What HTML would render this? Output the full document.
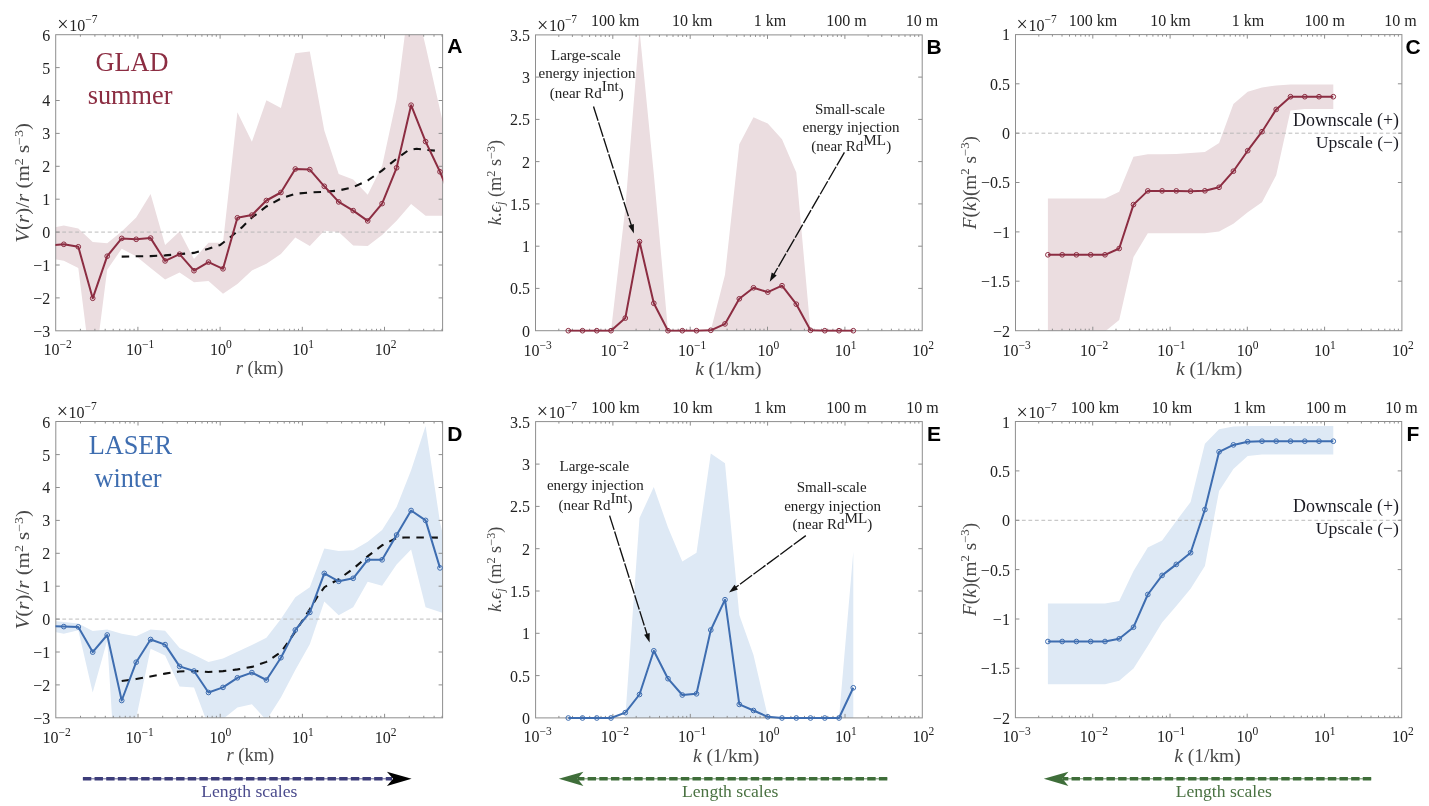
<!DOCTYPE html>
<html><head><meta charset="utf-8"><title>Figure</title><style>html,body{margin:0;padding:0;background:#fff}svg{display:block}</style></head><body>
<svg width="1429" height="806" viewBox="0 0 1429 806" font-family='"Liberation Serif", serif'>
<rect width="1429" height="806" fill="#fff"/>
<defs>
<clipPath id="ca"><rect x="55.7" y="34.7" width="386.9" height="296.1"/></clipPath>
<clipPath id="cax"><rect x="55.400000000000006" y="33.7" width="387.8" height="298.2"/></clipPath>
<clipPath id="cd"><rect x="55.8" y="421.5" width="386.8" height="296.3"/></clipPath>
<clipPath id="cdx"><rect x="55.5" y="420.5" width="387.7" height="298.4"/></clipPath>
<clipPath id="cb"><rect x="535.5" y="34.9" width="386.7" height="295.8"/></clipPath>
<clipPath id="cbx"><rect x="535.2" y="33.9" width="387.6" height="297.9"/></clipPath>
<clipPath id="ce"><rect x="535.6" y="421.6" width="386.7" height="296.3"/></clipPath>
<clipPath id="cex"><rect x="535.3000000000001" y="420.6" width="387.6" height="298.4"/></clipPath>
<clipPath id="cc"><rect x="1015.5" y="34.6" width="386.4" height="296.1"/></clipPath>
<clipPath id="ccx"><rect x="1015.2" y="33.6" width="387.3" height="298.2"/></clipPath>
<clipPath id="cf"><rect x="1015.4" y="421.5" width="386.3" height="296.2"/></clipPath>
<clipPath id="cfx"><rect x="1015.1" y="420.5" width="387.2" height="298.3"/></clipPath>
</defs>
<polygon points="49.3,228.3 63.8,225.5 78.3,228.6 92.7,242.0 107.2,243.2 121.7,231.4 136.2,217.6 150.6,194.1 165.1,245.0 179.6,231.4 194.0,259.1 208.5,242.8 223.0,242.8 237.4,112.2 251.9,141.7 266.4,100.2 280.9,108.1 295.3,53.2 309.8,51.5 324.3,130.5 338.7,174.0 353.2,179.5 367.7,194.7 382.1,166.1 396.6,98.9 411.1,-14.0 425.6,46.0 440.0,109.8 454.5,173.0 454.5,215.7 440.0,215.7 425.6,215.7 411.1,203.9 396.6,220.7 382.1,235.0 367.7,245.9 353.2,245.6 338.7,231.9 324.3,230.8 309.8,245.9 295.3,237.5 280.9,254.0 266.4,263.8 251.9,270.5 237.4,284.0 223.0,293.7 208.5,281.0 194.0,282.3 179.6,272.6 165.1,279.4 150.6,268.0 136.2,256.3 121.7,248.7 107.2,269.7 92.7,383.0 78.3,268.0 63.8,260.8 49.3,258.4" fill="#ebdde0" clip-path="url(#ca)"/>
<line x1="55.7" y1="232.1" x2="442.6" y2="232.1" stroke="#b4b4b4" stroke-width="0.9" stroke-dasharray="3.8 2.7"/>
<polyline points="121.7,256.6 136.2,256.3 150.4,256.1 165.0,255.4 179.3,254.1 193.9,252.9 208.4,248.7 220.1,245.0 231.8,236.0 241.9,227.4 252.0,217.5 266.4,206.5 280.9,198.5 295.3,193.8 309.9,192.5 324.4,191.8 338.8,190.5 353.3,187.1 367.9,180.4 382.3,170.3 396.8,158.6 408.2,150.4 416.6,148.7 426.7,149.9 436.5,150.8" fill="none" stroke="#111" stroke-width="2.1" stroke-dasharray="7.5 6.5" clip-path="url(#ca)"/>
<rect x="55.7" y="34.7" width="386.9" height="296.1" fill="none" stroke="#8e8e8e" stroke-width="1"/>
<path d="M80.4 330.8v-2M80.4 34.7v2M94.9 330.8v-2M94.9 34.7v2M105.2 330.8v-2M105.2 34.7v2M113.2 330.8v-2M113.2 34.7v2M119.7 330.8v-2M119.7 34.7v2M125.2 330.8v-2M125.2 34.7v2M129.9 330.8v-2M129.9 34.7v2M134.1 330.8v-2M134.1 34.7v2M137.9 330.8v-4M137.9 34.7v4M162.6 330.8v-2M162.6 34.7v2M177.1 330.8v-2M177.1 34.7v2M187.4 330.8v-2M187.4 34.7v2M195.4 330.8v-2M195.4 34.7v2M201.9 330.8v-2M201.9 34.7v2M207.4 330.8v-2M207.4 34.7v2M212.1 330.8v-2M212.1 34.7v2M216.3 330.8v-2M216.3 34.7v2M220.1 330.8v-4M220.1 34.7v4M244.8 330.8v-2M244.8 34.7v2M259.3 330.8v-2M259.3 34.7v2M269.6 330.8v-2M269.6 34.7v2M277.6 330.8v-2M277.6 34.7v2M284.1 330.8v-2M284.1 34.7v2M289.6 330.8v-2M289.6 34.7v2M294.3 330.8v-2M294.3 34.7v2M298.5 330.8v-2M298.5 34.7v2M302.3 330.8v-4M302.3 34.7v4M327.0 330.8v-2M327.0 34.7v2M341.5 330.8v-2M341.5 34.7v2M351.8 330.8v-2M351.8 34.7v2M359.8 330.8v-2M359.8 34.7v2M366.3 330.8v-2M366.3 34.7v2M371.8 330.8v-2M371.8 34.7v2M376.5 330.8v-2M376.5 34.7v2M380.7 330.8v-2M380.7 34.7v2M384.5 330.8v-4M384.5 34.7v4M409.2 330.8v-2M409.2 34.7v2M423.7 330.8v-2M423.7 34.7v2M434.0 330.8v-2M434.0 34.7v2M442.0 330.8v-2M442.0 34.7v2" stroke="#8e8e8e" stroke-width="1" fill="none"/>
<polyline points="49.3,245.3 63.8,244.3 78.3,246.8 92.7,298.3 107.2,256.2 121.7,238.4 136.2,239.3 150.6,238.1 165.1,260.9 179.6,254.2 194.0,270.7 208.5,262.1 223.0,268.8 237.4,217.8 251.9,215.1 266.4,200.5 280.9,192.5 295.3,169.0 309.8,169.6 324.3,186.3 338.7,201.9 353.2,210.6 367.7,220.9 382.1,203.6 396.6,167.8 411.1,105.2 425.6,141.6 440.0,171.8 454.5,207.2" fill="none" stroke="#8c2d42" stroke-width="2.0" stroke-linejoin="round" clip-path="url(#cax)"/>
<circle cx="63.8" cy="244.3" r="2.35" fill="none" stroke="#8c2d42" stroke-width="1"/>
<circle cx="78.3" cy="246.8" r="2.35" fill="none" stroke="#8c2d42" stroke-width="1"/>
<circle cx="92.7" cy="298.3" r="2.35" fill="none" stroke="#8c2d42" stroke-width="1"/>
<circle cx="107.2" cy="256.2" r="2.35" fill="none" stroke="#8c2d42" stroke-width="1"/>
<circle cx="121.7" cy="238.4" r="2.35" fill="none" stroke="#8c2d42" stroke-width="1"/>
<circle cx="136.2" cy="239.3" r="2.35" fill="none" stroke="#8c2d42" stroke-width="1"/>
<circle cx="150.6" cy="238.1" r="2.35" fill="none" stroke="#8c2d42" stroke-width="1"/>
<circle cx="165.1" cy="260.9" r="2.35" fill="none" stroke="#8c2d42" stroke-width="1"/>
<circle cx="179.6" cy="254.2" r="2.35" fill="none" stroke="#8c2d42" stroke-width="1"/>
<circle cx="194.0" cy="270.7" r="2.35" fill="none" stroke="#8c2d42" stroke-width="1"/>
<circle cx="208.5" cy="262.1" r="2.35" fill="none" stroke="#8c2d42" stroke-width="1"/>
<circle cx="223.0" cy="268.8" r="2.35" fill="none" stroke="#8c2d42" stroke-width="1"/>
<circle cx="237.4" cy="217.8" r="2.35" fill="none" stroke="#8c2d42" stroke-width="1"/>
<circle cx="251.9" cy="215.1" r="2.35" fill="none" stroke="#8c2d42" stroke-width="1"/>
<circle cx="266.4" cy="200.5" r="2.35" fill="none" stroke="#8c2d42" stroke-width="1"/>
<circle cx="280.9" cy="192.5" r="2.35" fill="none" stroke="#8c2d42" stroke-width="1"/>
<circle cx="295.3" cy="169.0" r="2.35" fill="none" stroke="#8c2d42" stroke-width="1"/>
<circle cx="309.8" cy="169.6" r="2.35" fill="none" stroke="#8c2d42" stroke-width="1"/>
<circle cx="324.3" cy="186.3" r="2.35" fill="none" stroke="#8c2d42" stroke-width="1"/>
<circle cx="338.7" cy="201.9" r="2.35" fill="none" stroke="#8c2d42" stroke-width="1"/>
<circle cx="353.2" cy="210.6" r="2.35" fill="none" stroke="#8c2d42" stroke-width="1"/>
<circle cx="367.7" cy="220.9" r="2.35" fill="none" stroke="#8c2d42" stroke-width="1"/>
<circle cx="382.1" cy="203.6" r="2.35" fill="none" stroke="#8c2d42" stroke-width="1"/>
<circle cx="396.6" cy="167.8" r="2.35" fill="none" stroke="#8c2d42" stroke-width="1"/>
<circle cx="411.1" cy="105.2" r="2.35" fill="none" stroke="#8c2d42" stroke-width="1"/>
<circle cx="425.6" cy="141.6" r="2.35" fill="none" stroke="#8c2d42" stroke-width="1"/>
<circle cx="440.0" cy="171.8" r="2.35" fill="none" stroke="#8c2d42" stroke-width="1"/>
<path d="M55.7 297.9h4M442.6 297.9h-4M55.7 265.0h4M442.6 265.0h-4M55.7 232.1h4M442.6 232.1h-4M55.7 199.2h4M442.6 199.2h-4M55.7 166.3h4M442.6 166.3h-4M55.7 133.4h4M442.6 133.4h-4M55.7 100.5h4M442.6 100.5h-4M55.7 67.6h4M442.6 67.6h-4" stroke="#8e8e8e" stroke-width="1" fill="none"/>
<text x="50.2" y="336.7" text-anchor="end" font-size="16" fill="#222">−3</text>
<text x="50.2" y="303.8" text-anchor="end" font-size="16" fill="#222">−2</text>
<text x="50.2" y="270.9" text-anchor="end" font-size="16" fill="#222">−1</text>
<text x="50.2" y="238.0" text-anchor="end" font-size="16" fill="#222">0</text>
<text x="50.2" y="205.1" text-anchor="end" font-size="16" fill="#222">1</text>
<text x="50.2" y="172.2" text-anchor="end" font-size="16" fill="#222">2</text>
<text x="50.2" y="139.3" text-anchor="end" font-size="16" fill="#222">3</text>
<text x="50.2" y="106.4" text-anchor="end" font-size="16" fill="#222">4</text>
<text x="50.2" y="73.5" text-anchor="end" font-size="16" fill="#222">5</text>
<text x="50.2" y="40.6" text-anchor="end" font-size="16" fill="#222">6</text>
<text x="43.6" y="355.3" font-size="16" fill="#222">10<tspan dy="-7" font-size="11.5">−2</tspan></text>
<text x="126.0" y="355.3" font-size="16" fill="#222">10<tspan dy="-7" font-size="11.5">−1</tspan></text>
<text x="210.0" y="355.3" font-size="16" fill="#222">10<tspan dy="-7" font-size="11.5">0</tspan></text>
<text x="292.3" y="355.3" font-size="16" fill="#222">10<tspan dy="-7" font-size="11.5">1</tspan></text>
<text x="374.8" y="355.3" font-size="16" fill="#222">10<tspan dy="-7" font-size="11.5">2</tspan></text>
<text x="57.3" y="30.8" font-size="16" fill="#222"><tspan font-size="20" dy="0.6">×</tspan><tspan dy="-0.6" dx="0.6">10</tspan><tspan dy="-7.5" font-size="11.5">−7</tspan></text>
<text x="447.3" y="53" font-family='"Liberation Sans", sans-serif' font-weight="bold" font-size="21" fill="#000">A</text>
<text x="132" y="70.6" text-anchor="middle" font-size="26.3" fill="#8c2d42">GLAD</text>
<text x="130.1" y="103.9" text-anchor="middle" font-size="26.3" fill="#8c2d42">summer</text>
<polygon points="49.3,620.5 63.8,621.9 78.3,623.6 92.7,631.1 107.2,629.5 121.7,633.7 136.2,636.2 150.6,629.5 165.1,630.8 179.6,647.9 194.0,654.7 208.5,661.9 223.0,658.5 237.4,651.8 251.9,645.0 266.4,637.8 280.9,619.0 295.3,597.3 309.8,587.2 324.3,548.6 338.7,551.1 353.2,550.2 367.7,541.8 382.1,530.1 396.6,507.1 411.1,470.3 425.6,425.9 440.0,522.2 443.0,535.0 443.0,613.0 440.0,612.0 425.6,607.3 411.1,549.4 396.6,564.5 382.1,585.8 367.7,581.8 353.2,607.3 338.7,615.2 324.3,601.5 309.8,644.3 295.3,670.0 280.9,697.5 266.4,720.2 251.9,704.2 237.4,707.6 223.0,719.0 208.5,726.2 194.0,687.4 179.6,686.6 165.1,655.5 150.6,648.8 136.2,718.0 121.7,871.0 107.2,640.4 92.7,692.5 78.3,630.3 63.8,633.7 49.3,631.0" fill="#dee9f5" clip-path="url(#cd)"/>
<line x1="55.8" y1="619.1" x2="442.6" y2="619.1" stroke="#b4b4b4" stroke-width="0.9" stroke-dasharray="3.8 2.7"/>
<polyline points="121.7,681.0 136.2,679.0 150.4,676.5 165.0,673.6 179.3,671.5 193.9,671.0 208.4,672.0 223.0,671.1 237.6,669.4 252.0,666.9 266.4,661.9 281.1,652.1 295.3,631.7 309.9,609.0 317.5,596.4 324.4,587.2 338.8,579.1 353.3,568.7 367.9,556.1 382.3,545.2 396.8,537.8 404.8,537.5 440.0,537.6" fill="none" stroke="#111" stroke-width="2.1" stroke-dasharray="7.5 6.5" clip-path="url(#cd)"/>
<rect x="55.8" y="421.5" width="386.8" height="296.3" fill="none" stroke="#8e8e8e" stroke-width="1"/>
<path d="M80.5 717.8v-2M80.5 421.5v2M95.0 717.8v-2M95.0 421.5v2M105.3 717.8v-2M105.3 421.5v2M113.3 717.8v-2M113.3 421.5v2M119.8 717.8v-2M119.8 421.5v2M125.3 717.8v-2M125.3 421.5v2M130.0 717.8v-2M130.0 421.5v2M134.2 717.8v-2M134.2 421.5v2M138.0 717.8v-4M138.0 421.5v4M162.7 717.8v-2M162.7 421.5v2M177.2 717.8v-2M177.2 421.5v2M187.5 717.8v-2M187.5 421.5v2M195.5 717.8v-2M195.5 421.5v2M202.0 717.8v-2M202.0 421.5v2M207.5 717.8v-2M207.5 421.5v2M212.2 717.8v-2M212.2 421.5v2M216.4 717.8v-2M216.4 421.5v2M220.2 717.8v-4M220.2 421.5v4M244.9 717.8v-2M244.9 421.5v2M259.4 717.8v-2M259.4 421.5v2M269.7 717.8v-2M269.7 421.5v2M277.7 717.8v-2M277.7 421.5v2M284.2 717.8v-2M284.2 421.5v2M289.7 717.8v-2M289.7 421.5v2M294.4 717.8v-2M294.4 421.5v2M298.6 717.8v-2M298.6 421.5v2M302.4 717.8v-4M302.4 421.5v4M327.1 717.8v-2M327.1 421.5v2M341.6 717.8v-2M341.6 421.5v2M351.9 717.8v-2M351.9 421.5v2M359.9 717.8v-2M359.9 421.5v2M366.4 717.8v-2M366.4 421.5v2M371.9 717.8v-2M371.9 421.5v2M376.6 717.8v-2M376.6 421.5v2M380.8 717.8v-2M380.8 421.5v2M384.6 717.8v-4M384.6 421.5v4M409.3 717.8v-2M409.3 421.5v2M423.8 717.8v-2M423.8 421.5v2M434.1 717.8v-2M434.1 421.5v2M442.1 717.8v-2M442.1 421.5v2" stroke="#8e8e8e" stroke-width="1" fill="none"/>
<polyline points="49.3,626.2 63.8,626.6 78.3,626.9 92.7,652.1 107.2,635.0 121.7,700.5 136.2,662.2 150.6,639.5 165.1,644.6 179.6,666.4 194.0,671.0 208.5,692.5 223.0,687.4 237.4,677.8 251.9,672.6 266.4,680.0 280.9,657.7 295.3,630.0 309.8,612.4 324.3,573.4 338.7,581.3 353.2,578.3 367.7,559.8 382.1,559.8 396.6,535.0 411.1,510.5 425.6,520.4 440.0,567.9" fill="none" stroke="#3e6db0" stroke-width="2.0" stroke-linejoin="round" clip-path="url(#cdx)"/>
<circle cx="63.8" cy="626.6" r="2.35" fill="none" stroke="#3e6db0" stroke-width="1"/>
<circle cx="78.3" cy="626.9" r="2.35" fill="none" stroke="#3e6db0" stroke-width="1"/>
<circle cx="92.7" cy="652.1" r="2.35" fill="none" stroke="#3e6db0" stroke-width="1"/>
<circle cx="107.2" cy="635.0" r="2.35" fill="none" stroke="#3e6db0" stroke-width="1"/>
<circle cx="121.7" cy="700.5" r="2.35" fill="none" stroke="#3e6db0" stroke-width="1"/>
<circle cx="136.2" cy="662.2" r="2.35" fill="none" stroke="#3e6db0" stroke-width="1"/>
<circle cx="150.6" cy="639.5" r="2.35" fill="none" stroke="#3e6db0" stroke-width="1"/>
<circle cx="165.1" cy="644.6" r="2.35" fill="none" stroke="#3e6db0" stroke-width="1"/>
<circle cx="179.6" cy="666.4" r="2.35" fill="none" stroke="#3e6db0" stroke-width="1"/>
<circle cx="194.0" cy="671.0" r="2.35" fill="none" stroke="#3e6db0" stroke-width="1"/>
<circle cx="208.5" cy="692.5" r="2.35" fill="none" stroke="#3e6db0" stroke-width="1"/>
<circle cx="223.0" cy="687.4" r="2.35" fill="none" stroke="#3e6db0" stroke-width="1"/>
<circle cx="237.4" cy="677.8" r="2.35" fill="none" stroke="#3e6db0" stroke-width="1"/>
<circle cx="251.9" cy="672.6" r="2.35" fill="none" stroke="#3e6db0" stroke-width="1"/>
<circle cx="266.4" cy="680.0" r="2.35" fill="none" stroke="#3e6db0" stroke-width="1"/>
<circle cx="280.9" cy="657.7" r="2.35" fill="none" stroke="#3e6db0" stroke-width="1"/>
<circle cx="295.3" cy="630.0" r="2.35" fill="none" stroke="#3e6db0" stroke-width="1"/>
<circle cx="309.8" cy="612.4" r="2.35" fill="none" stroke="#3e6db0" stroke-width="1"/>
<circle cx="324.3" cy="573.4" r="2.35" fill="none" stroke="#3e6db0" stroke-width="1"/>
<circle cx="338.7" cy="581.3" r="2.35" fill="none" stroke="#3e6db0" stroke-width="1"/>
<circle cx="353.2" cy="578.3" r="2.35" fill="none" stroke="#3e6db0" stroke-width="1"/>
<circle cx="367.7" cy="559.8" r="2.35" fill="none" stroke="#3e6db0" stroke-width="1"/>
<circle cx="382.1" cy="559.8" r="2.35" fill="none" stroke="#3e6db0" stroke-width="1"/>
<circle cx="396.6" cy="535.0" r="2.35" fill="none" stroke="#3e6db0" stroke-width="1"/>
<circle cx="411.1" cy="510.5" r="2.35" fill="none" stroke="#3e6db0" stroke-width="1"/>
<circle cx="425.6" cy="520.4" r="2.35" fill="none" stroke="#3e6db0" stroke-width="1"/>
<circle cx="440.0" cy="567.9" r="2.35" fill="none" stroke="#3e6db0" stroke-width="1"/>
<path d="M55.8 684.9h4M442.6 684.9h-4M55.8 652.0h4M442.6 652.0h-4M55.8 619.1h4M442.6 619.1h-4M55.8 586.2h4M442.6 586.2h-4M55.8 553.3h4M442.6 553.3h-4M55.8 520.4h4M442.6 520.4h-4M55.8 487.5h4M442.6 487.5h-4M55.8 454.6h4M442.6 454.6h-4" stroke="#8e8e8e" stroke-width="1" fill="none"/>
<text x="50.3" y="723.7" text-anchor="end" font-size="16" fill="#222">−3</text>
<text x="50.3" y="690.8" text-anchor="end" font-size="16" fill="#222">−2</text>
<text x="50.3" y="657.9" text-anchor="end" font-size="16" fill="#222">−1</text>
<text x="50.3" y="625.0" text-anchor="end" font-size="16" fill="#222">0</text>
<text x="50.3" y="592.1" text-anchor="end" font-size="16" fill="#222">1</text>
<text x="50.3" y="559.2" text-anchor="end" font-size="16" fill="#222">2</text>
<text x="50.3" y="526.3" text-anchor="end" font-size="16" fill="#222">3</text>
<text x="50.3" y="493.4" text-anchor="end" font-size="16" fill="#222">4</text>
<text x="50.3" y="460.5" text-anchor="end" font-size="16" fill="#222">5</text>
<text x="50.3" y="427.6" text-anchor="end" font-size="16" fill="#222">6</text>
<text x="42.6" y="742.9" font-size="16" fill="#222">10<tspan dy="-7" font-size="11.5">−2</tspan></text>
<text x="125.4" y="742.9" font-size="16" fill="#222">10<tspan dy="-7" font-size="11.5">−1</tspan></text>
<text x="209.6" y="742.9" font-size="16" fill="#222">10<tspan dy="-7" font-size="11.5">0</tspan></text>
<text x="291.9" y="742.9" font-size="16" fill="#222">10<tspan dy="-7" font-size="11.5">1</tspan></text>
<text x="374.8" y="742.9" font-size="16" fill="#222">10<tspan dy="-7" font-size="11.5">2</tspan></text>
<text x="56.7" y="417.7" font-size="16" fill="#222"><tspan font-size="20" dy="0.6">×</tspan><tspan dy="-0.6" dx="0.6">10</tspan><tspan dy="-7.5" font-size="11.5">−7</tspan></text>
<text x="447.3" y="440.8" font-family='"Liberation Sans", sans-serif' font-weight="bold" font-size="21" fill="#000">D</text>
<text x="130.3" y="454.1" text-anchor="middle" font-size="26.3" fill="#3e6db0">LASER</text>
<text x="128" y="487.4" text-anchor="middle" font-size="26.3" fill="#3e6db0">winter</text>
<polygon points="568.3,330.7 582.5,330.7 596.8,330.7 611.0,330.7 625.3,208.4 639.5,30.0 653.8,174.0 668.0,330.7 682.3,330.7 696.5,330.7 710.8,330.2 725.0,274.7 739.3,144.2 753.5,117.3 767.8,123.6 782.0,139.2 796.3,172.4 810.5,330.7 824.8,330.7 839.0,330.7 853.3,330.7 853.3,331.0 839.0,331.0 824.8,331.0 810.5,331.0 796.3,331.0 782.0,331.0 767.8,331.0 753.5,331.0 739.3,331.0 725.0,331.0 710.8,331.0 696.5,331.0 682.3,331.0 668.0,331.0 653.8,331.0 639.5,331.0 625.3,331.0 611.0,331.0 596.8,331.0 582.5,331.0 568.3,331.0" fill="#ebdde0" clip-path="url(#cb)"/>
<rect x="535.5" y="34.9" width="386.7" height="295.8" fill="none" stroke="#8e8e8e" stroke-width="1"/>
<path d="M558.8 330.7v-2M558.8 34.9v2M572.4 330.7v-2M572.4 34.9v2M582.1 330.7v-2M582.1 34.9v2M589.6 330.7v-2M589.6 34.9v2M595.7 330.7v-2M595.7 34.9v2M600.9 330.7v-2M600.9 34.9v2M605.3 330.7v-2M605.3 34.9v2M609.3 330.7v-2M609.3 34.9v2M612.8 330.7v-4M612.8 34.9v4M636.1 330.7v-2M636.1 34.9v2M649.7 330.7v-2M649.7 34.9v2M659.4 330.7v-2M659.4 34.9v2M666.9 330.7v-2M666.9 34.9v2M673.0 330.7v-2M673.0 34.9v2M678.2 330.7v-2M678.2 34.9v2M682.7 330.7v-2M682.7 34.9v2M686.6 330.7v-2M686.6 34.9v2M690.2 330.7v-4M690.2 34.9v4M713.5 330.7v-2M713.5 34.9v2M727.1 330.7v-2M727.1 34.9v2M736.7 330.7v-2M736.7 34.9v2M744.2 330.7v-2M744.2 34.9v2M750.4 330.7v-2M750.4 34.9v2M755.5 330.7v-2M755.5 34.9v2M760.0 330.7v-2M760.0 34.9v2M764.0 330.7v-2M764.0 34.9v2M767.5 330.7v-4M767.5 34.9v4M790.8 330.7v-2M790.8 34.9v2M804.4 330.7v-2M804.4 34.9v2M814.1 330.7v-2M814.1 34.9v2M821.6 330.7v-2M821.6 34.9v2M827.7 330.7v-2M827.7 34.9v2M832.9 330.7v-2M832.9 34.9v2M837.4 330.7v-2M837.4 34.9v2M841.3 330.7v-2M841.3 34.9v2M844.9 330.7v-4M844.9 34.9v4M868.1 330.7v-2M868.1 34.9v2M881.8 330.7v-2M881.8 34.9v2M891.4 330.7v-2M891.4 34.9v2M898.9 330.7v-2M898.9 34.9v2M905.0 330.7v-2M905.0 34.9v2M910.2 330.7v-2M910.2 34.9v2M914.7 330.7v-2M914.7 34.9v2M918.7 330.7v-2M918.7 34.9v2" stroke="#8e8e8e" stroke-width="1" fill="none"/>
<polyline points="568.3,330.7 582.5,330.7 596.8,330.7 611.0,330.7 625.3,318.1 639.5,241.6 653.8,303.3 668.0,330.7 682.3,330.7 696.5,330.7 710.8,330.3 725.0,323.9 739.3,298.8 753.5,287.8 767.8,292.1 782.0,285.7 796.3,304.2 810.5,330.3 824.8,330.7 839.0,330.7 853.3,330.7" fill="none" stroke="#8c2d42" stroke-width="2.0" stroke-linejoin="round" clip-path="url(#cbx)"/>
<circle cx="568.3" cy="330.7" r="2.35" fill="none" stroke="#8c2d42" stroke-width="1"/>
<circle cx="582.5" cy="330.7" r="2.35" fill="none" stroke="#8c2d42" stroke-width="1"/>
<circle cx="596.8" cy="330.7" r="2.35" fill="none" stroke="#8c2d42" stroke-width="1"/>
<circle cx="611.0" cy="330.7" r="2.35" fill="none" stroke="#8c2d42" stroke-width="1"/>
<circle cx="625.3" cy="318.1" r="2.35" fill="none" stroke="#8c2d42" stroke-width="1"/>
<circle cx="639.5" cy="241.6" r="2.35" fill="none" stroke="#8c2d42" stroke-width="1"/>
<circle cx="653.8" cy="303.3" r="2.35" fill="none" stroke="#8c2d42" stroke-width="1"/>
<circle cx="668.0" cy="330.7" r="2.35" fill="none" stroke="#8c2d42" stroke-width="1"/>
<circle cx="682.3" cy="330.7" r="2.35" fill="none" stroke="#8c2d42" stroke-width="1"/>
<circle cx="696.5" cy="330.7" r="2.35" fill="none" stroke="#8c2d42" stroke-width="1"/>
<circle cx="710.8" cy="330.3" r="2.35" fill="none" stroke="#8c2d42" stroke-width="1"/>
<circle cx="725.0" cy="323.9" r="2.35" fill="none" stroke="#8c2d42" stroke-width="1"/>
<circle cx="739.3" cy="298.8" r="2.35" fill="none" stroke="#8c2d42" stroke-width="1"/>
<circle cx="753.5" cy="287.8" r="2.35" fill="none" stroke="#8c2d42" stroke-width="1"/>
<circle cx="767.8" cy="292.1" r="2.35" fill="none" stroke="#8c2d42" stroke-width="1"/>
<circle cx="782.0" cy="285.7" r="2.35" fill="none" stroke="#8c2d42" stroke-width="1"/>
<circle cx="796.3" cy="304.2" r="2.35" fill="none" stroke="#8c2d42" stroke-width="1"/>
<circle cx="810.5" cy="330.3" r="2.35" fill="none" stroke="#8c2d42" stroke-width="1"/>
<circle cx="824.8" cy="330.7" r="2.35" fill="none" stroke="#8c2d42" stroke-width="1"/>
<circle cx="839.0" cy="330.7" r="2.35" fill="none" stroke="#8c2d42" stroke-width="1"/>
<circle cx="853.3" cy="330.7" r="2.35" fill="none" stroke="#8c2d42" stroke-width="1"/>
<path d="M535.5 288.4h4M922.2 288.4h-4M535.5 246.2h4M922.2 246.2h-4M535.5 203.9h4M922.2 203.9h-4M535.5 161.6h4M922.2 161.6h-4M535.5 119.4h4M922.2 119.4h-4M535.5 77.1h4M922.2 77.1h-4" stroke="#8e8e8e" stroke-width="1" fill="none"/>
<text x="530.0" y="336.6" text-anchor="end" font-size="16" fill="#222">0</text>
<text x="530.0" y="294.3" text-anchor="end" font-size="16" fill="#222">0.5</text>
<text x="530.0" y="252.1" text-anchor="end" font-size="16" fill="#222">1</text>
<text x="530.0" y="209.8" text-anchor="end" font-size="16" fill="#222">1.5</text>
<text x="530.0" y="167.5" text-anchor="end" font-size="16" fill="#222">2</text>
<text x="530.0" y="125.3" text-anchor="end" font-size="16" fill="#222">2.5</text>
<text x="530.0" y="83.0" text-anchor="end" font-size="16" fill="#222">3</text>
<text x="530.0" y="40.7" text-anchor="end" font-size="16" fill="#222">3.5</text>
<text x="523.4" y="355.5" font-size="16" fill="#222">10<tspan dy="-7" font-size="11.5">−3</tspan></text>
<text x="600.6" y="355.5" font-size="16" fill="#222">10<tspan dy="-7" font-size="11.5">−2</tspan></text>
<text x="677.9" y="355.5" font-size="16" fill="#222">10<tspan dy="-7" font-size="11.5">−1</tspan></text>
<text x="757.5" y="355.5" font-size="16" fill="#222">10<tspan dy="-7" font-size="11.5">0</tspan></text>
<text x="834.7" y="355.5" font-size="16" fill="#222">10<tspan dy="-7" font-size="11.5">1</tspan></text>
<text x="912.2" y="355.5" font-size="16" fill="#222">10<tspan dy="-7" font-size="11.5">2</tspan></text>
<text x="537.0" y="30.9" font-size="16" fill="#222"><tspan font-size="20" dy="0.6">×</tspan><tspan dy="-0.6" dx="0.6">10</tspan><tspan dy="-7.5" font-size="11.5">−7</tspan></text>
<polygon points="568.3,718.0 582.5,718.0 596.8,718.0 611.0,718.0 625.3,717.0 639.5,518.0 653.8,487.1 668.0,527.5 682.3,561.4 696.5,552.7 710.8,453.5 725.0,463.2 739.3,615.0 753.5,655.0 767.8,716.5 782.0,718.0 796.3,718.0 810.5,718.0 824.8,718.0 839.0,718.0 853.3,551.8 853.3,718.3 839.0,718.3 824.8,718.3 810.5,718.3 796.3,718.3 782.0,718.3 767.8,718.3 753.5,718.3 739.3,718.3 725.0,718.3 710.8,718.3 696.5,718.3 682.3,718.3 668.0,718.3 653.8,718.3 639.5,718.3 625.3,718.3 611.0,718.3 596.8,718.3 582.5,718.3 568.3,718.3" fill="#dee9f5" clip-path="url(#ce)"/>
<rect x="535.6" y="421.6" width="386.7" height="296.3" fill="none" stroke="#8e8e8e" stroke-width="1"/>
<path d="M558.9 717.9v-2M558.9 421.6v2M572.5 717.9v-2M572.5 421.6v2M582.2 717.9v-2M582.2 421.6v2M589.7 717.9v-2M589.7 421.6v2M595.8 717.9v-2M595.8 421.6v2M601.0 717.9v-2M601.0 421.6v2M605.4 717.9v-2M605.4 421.6v2M609.4 717.9v-2M609.4 421.6v2M612.9 717.9v-4M612.9 421.6v4M636.2 717.9v-2M636.2 421.6v2M649.8 717.9v-2M649.8 421.6v2M659.5 717.9v-2M659.5 421.6v2M667.0 717.9v-2M667.0 421.6v2M673.1 717.9v-2M673.1 421.6v2M678.3 717.9v-2M678.3 421.6v2M682.8 717.9v-2M682.8 421.6v2M686.7 717.9v-2M686.7 421.6v2M690.3 717.9v-4M690.3 421.6v4M713.6 717.9v-2M713.6 421.6v2M727.2 717.9v-2M727.2 421.6v2M736.8 717.9v-2M736.8 421.6v2M744.3 717.9v-2M744.3 421.6v2M750.5 717.9v-2M750.5 421.6v2M755.6 717.9v-2M755.6 421.6v2M760.1 717.9v-2M760.1 421.6v2M764.1 717.9v-2M764.1 421.6v2M767.6 717.9v-4M767.6 421.6v4M790.9 717.9v-2M790.9 421.6v2M804.5 717.9v-2M804.5 421.6v2M814.2 717.9v-2M814.2 421.6v2M821.7 717.9v-2M821.7 421.6v2M827.8 717.9v-2M827.8 421.6v2M833.0 717.9v-2M833.0 421.6v2M837.5 717.9v-2M837.5 421.6v2M841.4 717.9v-2M841.4 421.6v2M845.0 717.9v-4M845.0 421.6v4M868.2 717.9v-2M868.2 421.6v2M881.9 717.9v-2M881.9 421.6v2M891.5 717.9v-2M891.5 421.6v2M899.0 717.9v-2M899.0 421.6v2M905.1 717.9v-2M905.1 421.6v2M910.3 717.9v-2M910.3 421.6v2M914.8 717.9v-2M914.8 421.6v2M918.8 717.9v-2M918.8 421.6v2" stroke="#8e8e8e" stroke-width="1" fill="none"/>
<polyline points="568.3,718.0 582.5,718.0 596.8,718.0 611.0,718.0 625.3,712.6 639.5,694.5 653.8,650.8 668.0,678.7 682.3,695.0 696.5,693.8 710.8,630.0 725.0,599.7 739.3,704.4 753.5,710.5 767.8,716.8 782.0,718.0 796.3,718.0 810.5,718.0 824.8,718.0 839.0,718.0 853.3,687.8" fill="none" stroke="#3e6db0" stroke-width="2.0" stroke-linejoin="round" clip-path="url(#cex)"/>
<circle cx="568.3" cy="718.0" r="2.35" fill="none" stroke="#3e6db0" stroke-width="1"/>
<circle cx="582.5" cy="718.0" r="2.35" fill="none" stroke="#3e6db0" stroke-width="1"/>
<circle cx="596.8" cy="718.0" r="2.35" fill="none" stroke="#3e6db0" stroke-width="1"/>
<circle cx="611.0" cy="718.0" r="2.35" fill="none" stroke="#3e6db0" stroke-width="1"/>
<circle cx="625.3" cy="712.6" r="2.35" fill="none" stroke="#3e6db0" stroke-width="1"/>
<circle cx="639.5" cy="694.5" r="2.35" fill="none" stroke="#3e6db0" stroke-width="1"/>
<circle cx="653.8" cy="650.8" r="2.35" fill="none" stroke="#3e6db0" stroke-width="1"/>
<circle cx="668.0" cy="678.7" r="2.35" fill="none" stroke="#3e6db0" stroke-width="1"/>
<circle cx="682.3" cy="695.0" r="2.35" fill="none" stroke="#3e6db0" stroke-width="1"/>
<circle cx="696.5" cy="693.8" r="2.35" fill="none" stroke="#3e6db0" stroke-width="1"/>
<circle cx="710.8" cy="630.0" r="2.35" fill="none" stroke="#3e6db0" stroke-width="1"/>
<circle cx="725.0" cy="599.7" r="2.35" fill="none" stroke="#3e6db0" stroke-width="1"/>
<circle cx="739.3" cy="704.4" r="2.35" fill="none" stroke="#3e6db0" stroke-width="1"/>
<circle cx="753.5" cy="710.5" r="2.35" fill="none" stroke="#3e6db0" stroke-width="1"/>
<circle cx="767.8" cy="716.8" r="2.35" fill="none" stroke="#3e6db0" stroke-width="1"/>
<circle cx="782.0" cy="718.0" r="2.35" fill="none" stroke="#3e6db0" stroke-width="1"/>
<circle cx="796.3" cy="718.0" r="2.35" fill="none" stroke="#3e6db0" stroke-width="1"/>
<circle cx="810.5" cy="718.0" r="2.35" fill="none" stroke="#3e6db0" stroke-width="1"/>
<circle cx="824.8" cy="718.0" r="2.35" fill="none" stroke="#3e6db0" stroke-width="1"/>
<circle cx="839.0" cy="718.0" r="2.35" fill="none" stroke="#3e6db0" stroke-width="1"/>
<circle cx="853.3" cy="687.8" r="2.35" fill="none" stroke="#3e6db0" stroke-width="1"/>
<path d="M535.6 675.6h4M922.3 675.6h-4M535.6 633.3h4M922.3 633.3h-4M535.6 591.0h4M922.3 591.0h-4M535.6 548.7h4M922.3 548.7h-4M535.6 506.4h4M922.3 506.4h-4M535.6 464.1h4M922.3 464.1h-4" stroke="#8e8e8e" stroke-width="1" fill="none"/>
<text x="530.1" y="723.8" text-anchor="end" font-size="16" fill="#222">0</text>
<text x="530.1" y="681.5" text-anchor="end" font-size="16" fill="#222">0.5</text>
<text x="530.1" y="639.2" text-anchor="end" font-size="16" fill="#222">1</text>
<text x="530.1" y="596.9" text-anchor="end" font-size="16" fill="#222">1.5</text>
<text x="530.1" y="554.6" text-anchor="end" font-size="16" fill="#222">2</text>
<text x="530.1" y="512.3" text-anchor="end" font-size="16" fill="#222">2.5</text>
<text x="530.1" y="470.0" text-anchor="end" font-size="16" fill="#222">3</text>
<text x="530.1" y="427.7" text-anchor="end" font-size="16" fill="#222">3.5</text>
<text x="523.6" y="742.4" font-size="16" fill="#222">10<tspan dy="-7" font-size="11.5">−3</tspan></text>
<text x="600.8" y="742.4" font-size="16" fill="#222">10<tspan dy="-7" font-size="11.5">−2</tspan></text>
<text x="678.1" y="742.4" font-size="16" fill="#222">10<tspan dy="-7" font-size="11.5">−1</tspan></text>
<text x="757.7" y="742.4" font-size="16" fill="#222">10<tspan dy="-7" font-size="11.5">0</tspan></text>
<text x="834.9" y="742.4" font-size="16" fill="#222">10<tspan dy="-7" font-size="11.5">1</tspan></text>
<text x="912.4" y="742.4" font-size="16" fill="#222">10<tspan dy="-7" font-size="11.5">2</tspan></text>
<text x="536.8" y="417.7" font-size="16" fill="#222"><tspan font-size="20" dy="0.6">×</tspan><tspan dy="-0.6" dx="0.6">10</tspan><tspan dy="-7.5" font-size="11.5">−7</tspan></text>
<text x="926.6" y="53.5" font-family='"Liberation Sans", sans-serif' font-weight="bold" font-size="21" fill="#000">B</text>
<text x="927.1" y="440.7" font-family='"Liberation Sans", sans-serif' font-weight="bold" font-size="21" fill="#000">E</text>
<text x="615.2" y="25.9" text-anchor="middle" font-size="16" fill="#222">100 km</text>
<text x="692.3" y="25.9" text-anchor="middle" font-size="16" fill="#222">10 km</text>
<text x="769.9" y="25.9" text-anchor="middle" font-size="16" fill="#222">1 km</text>
<text x="846.6" y="25.9" text-anchor="middle" font-size="16" fill="#222">100 m</text>
<text x="922.1" y="25.9" text-anchor="middle" font-size="16" fill="#222">10 m</text>
<text x="615.4" y="412.6" text-anchor="middle" font-size="16" fill="#222">100 km</text>
<text x="692.6" y="412.6" text-anchor="middle" font-size="16" fill="#222">10 km</text>
<text x="770.0" y="412.6" text-anchor="middle" font-size="16" fill="#222">1 km</text>
<text x="846.5" y="412.6" text-anchor="middle" font-size="16" fill="#222">100 m</text>
<text x="922.6" y="412.6" text-anchor="middle" font-size="16" fill="#222">10 m</text>
<text x="1092.9" y="25.5" text-anchor="middle" font-size="16" fill="#222">100 km</text>
<text x="1170.4" y="25.5" text-anchor="middle" font-size="16" fill="#222">10 km</text>
<text x="1248.0" y="25.5" text-anchor="middle" font-size="16" fill="#222">1 km</text>
<text x="1324.7" y="25.5" text-anchor="middle" font-size="16" fill="#222">100 m</text>
<text x="1400.5" y="25.5" text-anchor="middle" font-size="16" fill="#222">10 m</text>
<text x="1094.9" y="412.5" text-anchor="middle" font-size="16" fill="#222">100 km</text>
<text x="1172.0" y="412.5" text-anchor="middle" font-size="16" fill="#222">10 km</text>
<text x="1249.6" y="412.5" text-anchor="middle" font-size="16" fill="#222">1 km</text>
<text x="1326.3" y="412.5" text-anchor="middle" font-size="16" fill="#222">100 m</text>
<text x="1401.5" y="412.5" text-anchor="middle" font-size="16" fill="#222">10 m</text>
<text x="585.9" y="59.8" text-anchor="middle" font-size="15" fill="#222">Large-scale</text>
<text x="587.0" y="78.4" text-anchor="middle" font-size="15" fill="#222">energy injection</text>
<text x="549.8" y="97.6" font-size="15" fill="#222">(near Rd<tspan dy="-6.2" font-size="15.2">Int</tspan><tspan dy="6.2">)</tspan></text>
<text x="849.9" y="113.5" text-anchor="middle" font-size="15" fill="#222">Small-scale</text>
<text x="851.0" y="131.9" text-anchor="middle" font-size="15" fill="#222">energy injection</text>
<text x="811.3" y="150.9" font-size="15" fill="#222">(near Rd<tspan dy="-6.2" font-size="15.2">ML</tspan><tspan dy="6.2">)</tspan></text>
<text x="594.4" y="471.4" text-anchor="middle" font-size="15" fill="#222">Large-scale</text>
<text x="595.3" y="489.9" text-anchor="middle" font-size="15" fill="#222">energy injection</text>
<text x="558.5" y="509.5" font-size="15" fill="#222">(near Rd<tspan dy="-6.2" font-size="15.2">Int</tspan><tspan dy="6.2">)</tspan></text>
<text x="831.7" y="492.2" text-anchor="middle" font-size="15" fill="#222">Small-scale</text>
<text x="832.6" y="510.7" text-anchor="middle" font-size="15" fill="#222">energy injection</text>
<text x="792.5" y="529.2" font-size="15" fill="#222">(near Rd<tspan dy="-6.2" font-size="15.2">ML</tspan><tspan dy="6.2">)</tspan></text>
<line x1="593.5" y1="106.5" x2="631.8" y2="226.8" stroke="#111" stroke-width="1.35" stroke-dasharray="15 1.7"/>
<polygon points="633.9,233.5 628.4,225.8 633.9,224.0" fill="#111"/>
<line x1="844.4" y1="152.3" x2="773.2" y2="275.7" stroke="#111" stroke-width="1.35" stroke-dasharray="15 1.7"/>
<polygon points="769.7,281.8 771.7,272.6 776.7,275.5" fill="#111"/>
<line x1="609.6" y1="515.6" x2="647.5" y2="635.7" stroke="#111" stroke-width="1.35" stroke-dasharray="15 1.7"/>
<polygon points="649.6,642.4 644.1,634.7 649.7,632.9" fill="#111"/>
<line x1="805.8" y1="535.6" x2="734.6" y2="588.2" stroke="#111" stroke-width="1.35" stroke-dasharray="15 1.7"/>
<polygon points="729.0,592.4 734.5,584.7 738.0,589.4" fill="#111"/>
<polygon points="1047.9,198.5 1062.2,198.5 1076.4,198.5 1090.7,198.5 1105.0,198.5 1119.2,191.8 1133.5,156.8 1147.8,154.3 1162.1,154.3 1176.3,154.0 1190.6,153.1 1204.9,152.1 1219.1,143.0 1233.4,104.1 1247.7,91.8 1262.0,87.4 1276.2,85.4 1290.5,84.6 1304.8,84.6 1319.0,84.6 1333.3,84.6 1333.3,108.9 1319.0,108.9 1304.8,108.9 1290.5,110.6 1276.2,175.3 1262.0,202.2 1247.7,212.3 1233.4,223.8 1219.1,231.6 1204.9,233.3 1190.6,233.3 1176.3,233.3 1162.1,233.3 1147.8,233.3 1133.5,257.1 1119.2,320.1 1105.0,331.5 1090.7,331.5 1076.4,331.5 1062.2,331.5 1047.9,331.5" fill="#ebdde0" clip-path="url(#cc)"/>
<line x1="1015.5" y1="133.2" x2="1401.9" y2="133.2" stroke="#b4b4b4" stroke-width="0.9" stroke-dasharray="3.8 2.7"/>
<rect x="1015.5" y="34.6" width="386.4" height="296.1" fill="none" stroke="#8e8e8e" stroke-width="1"/>
<path d="M1038.8 330.7v-2M1038.8 34.6v2M1052.4 330.7v-2M1052.4 34.6v2M1062.0 330.7v-2M1062.0 34.6v2M1069.5 330.7v-2M1069.5 34.6v2M1075.6 330.7v-2M1075.6 34.6v2M1080.8 330.7v-2M1080.8 34.6v2M1085.3 330.7v-2M1085.3 34.6v2M1089.2 330.7v-2M1089.2 34.6v2M1092.8 330.7v-4M1092.8 34.6v4M1116.0 330.7v-2M1116.0 34.6v2M1129.7 330.7v-2M1129.7 34.6v2M1139.3 330.7v-2M1139.3 34.6v2M1146.8 330.7v-2M1146.8 34.6v2M1152.9 330.7v-2M1152.9 34.6v2M1158.1 330.7v-2M1158.1 34.6v2M1162.6 330.7v-2M1162.6 34.6v2M1166.5 330.7v-2M1166.5 34.6v2M1170.1 330.7v-4M1170.1 34.6v4M1193.3 330.7v-2M1193.3 34.6v2M1206.9 330.7v-2M1206.9 34.6v2M1216.6 330.7v-2M1216.6 34.6v2M1224.1 330.7v-2M1224.1 34.6v2M1230.2 330.7v-2M1230.2 34.6v2M1235.4 330.7v-2M1235.4 34.6v2M1239.9 330.7v-2M1239.9 34.6v2M1243.8 330.7v-2M1243.8 34.6v2M1247.3 330.7v-4M1247.3 34.6v4M1270.6 330.7v-2M1270.6 34.6v2M1284.2 330.7v-2M1284.2 34.6v2M1293.9 330.7v-2M1293.9 34.6v2M1301.4 330.7v-2M1301.4 34.6v2M1307.5 330.7v-2M1307.5 34.6v2M1312.6 330.7v-2M1312.6 34.6v2M1317.1 330.7v-2M1317.1 34.6v2M1321.1 330.7v-2M1321.1 34.6v2M1324.6 330.7v-4M1324.6 34.6v4M1347.9 330.7v-2M1347.9 34.6v2M1361.5 330.7v-2M1361.5 34.6v2M1371.1 330.7v-2M1371.1 34.6v2M1378.6 330.7v-2M1378.6 34.6v2M1384.8 330.7v-2M1384.8 34.6v2M1389.9 330.7v-2M1389.9 34.6v2M1394.4 330.7v-2M1394.4 34.6v2M1398.4 330.7v-2M1398.4 34.6v2" stroke="#8e8e8e" stroke-width="1" fill="none"/>
<polyline points="1047.9,254.8 1062.2,254.8 1076.4,254.8 1090.7,254.8 1105.0,254.8 1119.2,248.5 1133.5,204.6 1147.8,190.9 1162.1,190.9 1176.3,190.9 1190.6,191.2 1204.9,190.8 1219.1,187.3 1233.4,171.2 1247.7,150.7 1262.0,131.7 1276.2,109.4 1290.5,96.7 1304.8,96.7 1319.0,96.7 1333.3,96.7" fill="none" stroke="#8c2d42" stroke-width="2.0" stroke-linejoin="round" clip-path="url(#ccx)"/>
<circle cx="1047.9" cy="254.8" r="2.35" fill="none" stroke="#8c2d42" stroke-width="1"/>
<circle cx="1062.2" cy="254.8" r="2.35" fill="none" stroke="#8c2d42" stroke-width="1"/>
<circle cx="1076.4" cy="254.8" r="2.35" fill="none" stroke="#8c2d42" stroke-width="1"/>
<circle cx="1090.7" cy="254.8" r="2.35" fill="none" stroke="#8c2d42" stroke-width="1"/>
<circle cx="1105.0" cy="254.8" r="2.35" fill="none" stroke="#8c2d42" stroke-width="1"/>
<circle cx="1119.2" cy="248.5" r="2.35" fill="none" stroke="#8c2d42" stroke-width="1"/>
<circle cx="1133.5" cy="204.6" r="2.35" fill="none" stroke="#8c2d42" stroke-width="1"/>
<circle cx="1147.8" cy="190.9" r="2.35" fill="none" stroke="#8c2d42" stroke-width="1"/>
<circle cx="1162.1" cy="190.9" r="2.35" fill="none" stroke="#8c2d42" stroke-width="1"/>
<circle cx="1176.3" cy="190.9" r="2.35" fill="none" stroke="#8c2d42" stroke-width="1"/>
<circle cx="1190.6" cy="191.2" r="2.35" fill="none" stroke="#8c2d42" stroke-width="1"/>
<circle cx="1204.9" cy="190.8" r="2.35" fill="none" stroke="#8c2d42" stroke-width="1"/>
<circle cx="1219.1" cy="187.3" r="2.35" fill="none" stroke="#8c2d42" stroke-width="1"/>
<circle cx="1233.4" cy="171.2" r="2.35" fill="none" stroke="#8c2d42" stroke-width="1"/>
<circle cx="1247.7" cy="150.7" r="2.35" fill="none" stroke="#8c2d42" stroke-width="1"/>
<circle cx="1262.0" cy="131.7" r="2.35" fill="none" stroke="#8c2d42" stroke-width="1"/>
<circle cx="1276.2" cy="109.4" r="2.35" fill="none" stroke="#8c2d42" stroke-width="1"/>
<circle cx="1290.5" cy="96.7" r="2.35" fill="none" stroke="#8c2d42" stroke-width="1"/>
<circle cx="1304.8" cy="96.7" r="2.35" fill="none" stroke="#8c2d42" stroke-width="1"/>
<circle cx="1319.0" cy="96.7" r="2.35" fill="none" stroke="#8c2d42" stroke-width="1"/>
<circle cx="1333.3" cy="96.7" r="2.35" fill="none" stroke="#8c2d42" stroke-width="1"/>
<path d="M1015.5 281.2h4M1401.9 281.2h-4M1015.5 231.9h4M1401.9 231.9h-4M1015.5 182.5h4M1401.9 182.5h-4M1015.5 133.2h4M1401.9 133.2h-4M1015.5 83.8h4M1401.9 83.8h-4" stroke="#8e8e8e" stroke-width="1" fill="none"/>
<text x="1010.0" y="336.5" text-anchor="end" font-size="16" fill="#222">−2</text>
<text x="1010.0" y="287.1" text-anchor="end" font-size="16" fill="#222">−1.5</text>
<text x="1010.0" y="237.8" text-anchor="end" font-size="16" fill="#222">−1</text>
<text x="1010.0" y="188.4" text-anchor="end" font-size="16" fill="#222">−0.5</text>
<text x="1010.0" y="139.1" text-anchor="end" font-size="16" fill="#222">0</text>
<text x="1010.0" y="89.8" text-anchor="end" font-size="16" fill="#222">0.5</text>
<text x="1010.0" y="40.4" text-anchor="end" font-size="16" fill="#222">1</text>
<text x="1002.6" y="355.5" font-size="16" fill="#222">10<tspan dy="-7" font-size="11.5">−3</tspan></text>
<text x="1079.9" y="355.5" font-size="16" fill="#222">10<tspan dy="-7" font-size="11.5">−2</tspan></text>
<text x="1157.2" y="355.5" font-size="16" fill="#222">10<tspan dy="-7" font-size="11.5">−1</tspan></text>
<text x="1236.7" y="355.5" font-size="16" fill="#222">10<tspan dy="-7" font-size="11.5">0</tspan></text>
<text x="1314.0" y="355.5" font-size="16" fill="#222">10<tspan dy="-7" font-size="11.5">1</tspan></text>
<text x="1392.0" y="355.5" font-size="16" fill="#222">10<tspan dy="-7" font-size="11.5">2</tspan></text>
<text x="1016.6" y="30.5" font-size="16" fill="#222"><tspan font-size="20" dy="0.6">×</tspan><tspan dy="-0.6" dx="0.6">10</tspan><tspan dy="-7.5" font-size="11.5">−7</tspan></text>
<polygon points="1047.9,603.6 1062.2,603.6 1076.4,603.6 1090.7,603.6 1105.0,603.6 1119.2,601.0 1133.5,570.9 1147.8,547.4 1162.1,540.5 1176.3,520.9 1190.6,502.0 1204.9,443.8 1219.1,429.3 1233.4,426.5 1247.7,426.1 1262.0,426.1 1276.2,426.1 1290.5,426.1 1304.8,426.1 1319.0,426.1 1333.3,426.1 1333.3,454.6 1319.0,454.6 1304.8,454.6 1290.5,454.6 1276.2,454.6 1262.0,454.6 1247.7,456.0 1233.4,469.1 1219.1,491.0 1204.9,566.0 1190.6,588.7 1176.3,606.1 1162.1,622.5 1147.8,646.0 1133.5,668.5 1119.2,680.8 1105.0,684.3 1090.7,684.3 1076.4,684.3 1062.2,684.3 1047.9,684.3" fill="#dee9f5" clip-path="url(#cf)"/>
<line x1="1015.4" y1="520.3" x2="1401.7" y2="520.3" stroke="#b4b4b4" stroke-width="0.9" stroke-dasharray="3.8 2.7"/>
<rect x="1015.4" y="421.5" width="386.3" height="296.2" fill="none" stroke="#8e8e8e" stroke-width="1"/>
<path d="M1038.7 717.7v-2M1038.7 421.5v2M1052.3 717.7v-2M1052.3 421.5v2M1061.9 717.7v-2M1061.9 421.5v2M1069.4 717.7v-2M1069.4 421.5v2M1075.5 717.7v-2M1075.5 421.5v2M1080.7 717.7v-2M1080.7 421.5v2M1085.2 717.7v-2M1085.2 421.5v2M1089.1 717.7v-2M1089.1 421.5v2M1092.7 717.7v-4M1092.7 421.5v4M1115.9 717.7v-2M1115.9 421.5v2M1129.6 717.7v-2M1129.6 421.5v2M1139.2 717.7v-2M1139.2 421.5v2M1146.7 717.7v-2M1146.7 421.5v2M1152.8 717.7v-2M1152.8 421.5v2M1158.0 717.7v-2M1158.0 421.5v2M1162.5 717.7v-2M1162.5 421.5v2M1166.4 717.7v-2M1166.4 421.5v2M1170.0 717.7v-4M1170.0 421.5v4M1193.2 717.7v-2M1193.2 421.5v2M1206.8 717.7v-2M1206.8 421.5v2M1216.5 717.7v-2M1216.5 421.5v2M1224.0 717.7v-2M1224.0 421.5v2M1230.1 717.7v-2M1230.1 421.5v2M1235.3 717.7v-2M1235.3 421.5v2M1239.8 717.7v-2M1239.8 421.5v2M1243.7 717.7v-2M1243.7 421.5v2M1247.2 717.7v-4M1247.2 421.5v4M1270.5 717.7v-2M1270.5 421.5v2M1284.1 717.7v-2M1284.1 421.5v2M1293.8 717.7v-2M1293.8 421.5v2M1301.3 717.7v-2M1301.3 421.5v2M1307.4 717.7v-2M1307.4 421.5v2M1312.5 717.7v-2M1312.5 421.5v2M1317.0 717.7v-2M1317.0 421.5v2M1321.0 717.7v-2M1321.0 421.5v2M1324.5 717.7v-4M1324.5 421.5v4M1347.8 717.7v-2M1347.8 421.5v2M1361.4 717.7v-2M1361.4 421.5v2M1371.0 717.7v-2M1371.0 421.5v2M1378.5 717.7v-2M1378.5 421.5v2M1384.7 717.7v-2M1384.7 421.5v2M1389.8 717.7v-2M1389.8 421.5v2M1394.3 717.7v-2M1394.3 421.5v2M1398.3 717.7v-2M1398.3 421.5v2" stroke="#8e8e8e" stroke-width="1" fill="none"/>
<polyline points="1047.9,641.5 1062.2,641.5 1076.4,641.5 1090.7,641.5 1105.0,641.5 1119.2,638.8 1133.5,627.2 1147.8,594.5 1162.1,575.4 1176.3,564.4 1190.6,552.7 1204.9,509.6 1219.1,451.8 1233.4,444.9 1247.7,441.7 1262.0,441.2 1276.2,441.2 1290.5,441.2 1304.8,441.2 1319.0,441.2 1333.3,441.2" fill="none" stroke="#3e6db0" stroke-width="2.0" stroke-linejoin="round" clip-path="url(#cfx)"/>
<circle cx="1047.9" cy="641.5" r="2.35" fill="none" stroke="#3e6db0" stroke-width="1"/>
<circle cx="1062.2" cy="641.5" r="2.35" fill="none" stroke="#3e6db0" stroke-width="1"/>
<circle cx="1076.4" cy="641.5" r="2.35" fill="none" stroke="#3e6db0" stroke-width="1"/>
<circle cx="1090.7" cy="641.5" r="2.35" fill="none" stroke="#3e6db0" stroke-width="1"/>
<circle cx="1105.0" cy="641.5" r="2.35" fill="none" stroke="#3e6db0" stroke-width="1"/>
<circle cx="1119.2" cy="638.8" r="2.35" fill="none" stroke="#3e6db0" stroke-width="1"/>
<circle cx="1133.5" cy="627.2" r="2.35" fill="none" stroke="#3e6db0" stroke-width="1"/>
<circle cx="1147.8" cy="594.5" r="2.35" fill="none" stroke="#3e6db0" stroke-width="1"/>
<circle cx="1162.1" cy="575.4" r="2.35" fill="none" stroke="#3e6db0" stroke-width="1"/>
<circle cx="1176.3" cy="564.4" r="2.35" fill="none" stroke="#3e6db0" stroke-width="1"/>
<circle cx="1190.6" cy="552.7" r="2.35" fill="none" stroke="#3e6db0" stroke-width="1"/>
<circle cx="1204.9" cy="509.6" r="2.35" fill="none" stroke="#3e6db0" stroke-width="1"/>
<circle cx="1219.1" cy="451.8" r="2.35" fill="none" stroke="#3e6db0" stroke-width="1"/>
<circle cx="1233.4" cy="444.9" r="2.35" fill="none" stroke="#3e6db0" stroke-width="1"/>
<circle cx="1247.7" cy="441.7" r="2.35" fill="none" stroke="#3e6db0" stroke-width="1"/>
<circle cx="1262.0" cy="441.2" r="2.35" fill="none" stroke="#3e6db0" stroke-width="1"/>
<circle cx="1276.2" cy="441.2" r="2.35" fill="none" stroke="#3e6db0" stroke-width="1"/>
<circle cx="1290.5" cy="441.2" r="2.35" fill="none" stroke="#3e6db0" stroke-width="1"/>
<circle cx="1304.8" cy="441.2" r="2.35" fill="none" stroke="#3e6db0" stroke-width="1"/>
<circle cx="1319.0" cy="441.2" r="2.35" fill="none" stroke="#3e6db0" stroke-width="1"/>
<circle cx="1333.3" cy="441.2" r="2.35" fill="none" stroke="#3e6db0" stroke-width="1"/>
<path d="M1015.4 668.3h4M1401.7 668.3h-4M1015.4 619.0h4M1401.7 619.0h-4M1015.4 569.6h4M1401.7 569.6h-4M1015.4 520.3h4M1401.7 520.3h-4M1015.4 470.9h4M1401.7 470.9h-4" stroke="#8e8e8e" stroke-width="1" fill="none"/>
<text x="1009.9" y="723.6" text-anchor="end" font-size="16" fill="#222">−2</text>
<text x="1009.9" y="674.2" text-anchor="end" font-size="16" fill="#222">−1.5</text>
<text x="1009.9" y="624.9" text-anchor="end" font-size="16" fill="#222">−1</text>
<text x="1009.9" y="575.5" text-anchor="end" font-size="16" fill="#222">−0.5</text>
<text x="1009.9" y="526.2" text-anchor="end" font-size="16" fill="#222">0</text>
<text x="1009.9" y="476.8" text-anchor="end" font-size="16" fill="#222">0.5</text>
<text x="1009.9" y="427.5" text-anchor="end" font-size="16" fill="#222">1</text>
<text x="1002.4" y="742.4" font-size="16" fill="#222">10<tspan dy="-7" font-size="11.5">−3</tspan></text>
<text x="1079.7" y="742.4" font-size="16" fill="#222">10<tspan dy="-7" font-size="11.5">−2</tspan></text>
<text x="1157.0" y="742.4" font-size="16" fill="#222">10<tspan dy="-7" font-size="11.5">−1</tspan></text>
<text x="1236.5" y="742.4" font-size="16" fill="#222">10<tspan dy="-7" font-size="11.5">0</tspan></text>
<text x="1313.8" y="742.4" font-size="16" fill="#222">10<tspan dy="-7" font-size="11.5">1</tspan></text>
<text x="1392.0" y="742.4" font-size="16" fill="#222">10<tspan dy="-7" font-size="11.5">2</tspan></text>
<text x="1016.6" y="418.3" font-size="16" fill="#222"><tspan font-size="20" dy="0.6">×</tspan><tspan dy="-0.6" dx="0.6">10</tspan><tspan dy="-7.5" font-size="11.5">−7</tspan></text>
<text x="1405.6" y="53.5" font-family='"Liberation Sans", sans-serif' font-weight="bold" font-size="21" fill="#000">C</text>
<text x="1406.4" y="440.8" font-family='"Liberation Sans", sans-serif' font-weight="bold" font-size="21" fill="#000">F</text>
<text x="1399" y="125.7" text-anchor="end" font-size="17.9" fill="#1a1a22">Downscale (+)</text>
<text x="1399" y="147.6" text-anchor="end" font-size="17.7" fill="#1a1a22">Upscale (−)</text>
<text x="1399" y="511.7" text-anchor="end" font-size="17.9" fill="#1a1a22">Downscale (+)</text>
<text x="1399" y="533.6" text-anchor="end" font-size="17.7" fill="#1a1a22">Upscale (−)</text>
<text x="259.6" y="374.3" text-anchor="middle" font-size="18" fill="#484848" textLength="47.6" lengthAdjust="spacingAndGlyphs"><tspan font-style="italic">r</tspan> (km)</text>
<text x="250.4" y="761.3" text-anchor="middle" font-size="18" fill="#484848" textLength="47.6" lengthAdjust="spacingAndGlyphs"><tspan font-style="italic">r</tspan> (km)</text>
<text x="728.3" y="375.4" text-anchor="middle" font-size="18" fill="#484848" textLength="66.3" lengthAdjust="spacingAndGlyphs"><tspan font-style="italic">k</tspan> (1/km)</text>
<text x="726.1" y="761.7" text-anchor="middle" font-size="18" fill="#484848" textLength="66.3" lengthAdjust="spacingAndGlyphs"><tspan font-style="italic">k</tspan> (1/km)</text>
<text x="1209.1" y="374.5" text-anchor="middle" font-size="18" fill="#484848" textLength="66.3" lengthAdjust="spacingAndGlyphs"><tspan font-style="italic">k</tspan> (1/km)</text>
<text x="1207.5" y="762.1" text-anchor="middle" font-size="18" fill="#484848" textLength="66.3" lengthAdjust="spacingAndGlyphs"><tspan font-style="italic">k</tspan> (1/km)</text>
<text transform="translate(29.2,182.9) rotate(-90)" text-anchor="middle" font-size="18" fill="#484848" textLength="119.6" lengthAdjust="spacingAndGlyphs"><tspan font-style="italic">V</tspan>(<tspan font-style="italic">r</tspan>)/<tspan font-style="italic">r</tspan> (m<tspan dy="-6.5" font-size="12">2</tspan><tspan dy="6.5"> s</tspan><tspan dy="-6.5" font-size="12">−3</tspan><tspan dy="6.5">)</tspan></text>
<text transform="translate(29.2,569.7) rotate(-90)" text-anchor="middle" font-size="18" fill="#484848" textLength="119.6" lengthAdjust="spacingAndGlyphs"><tspan font-style="italic">V</tspan>(<tspan font-style="italic">r</tspan>)/<tspan font-style="italic">r</tspan> (m<tspan dy="-6.5" font-size="12">2</tspan><tspan dy="6.5"> s</tspan><tspan dy="-6.5" font-size="12">−3</tspan><tspan dy="6.5">)</tspan></text>
<text transform="translate(501.0,182.5) rotate(-90)" text-anchor="middle" font-size="18" fill="#484848" textLength="85.3" lengthAdjust="spacingAndGlyphs"><tspan font-style="italic">k</tspan>.<tspan font-style="italic">ϵ</tspan><tspan dy="3" font-size="12" font-style="italic">j</tspan><tspan dy="-3"> </tspan>(m<tspan dy="-6.5" font-size="12">2</tspan><tspan dy="6.5"> s</tspan><tspan dy="-6.5" font-size="12">−3</tspan><tspan dy="6.5">)</tspan></text>
<text transform="translate(501.0,569.3) rotate(-90)" text-anchor="middle" font-size="18" fill="#484848" textLength="85.3" lengthAdjust="spacingAndGlyphs"><tspan font-style="italic">k</tspan>.<tspan font-style="italic">ϵ</tspan><tspan dy="3" font-size="12" font-style="italic">j</tspan><tspan dy="-3"> </tspan>(m<tspan dy="-6.5" font-size="12">2</tspan><tspan dy="6.5"> s</tspan><tspan dy="-6.5" font-size="12">−3</tspan><tspan dy="6.5">)</tspan></text>
<text transform="translate(975.5,182.6) rotate(-90)" text-anchor="middle" font-size="18" fill="#484848" textLength="93.2" lengthAdjust="spacingAndGlyphs"><tspan font-style="italic">F</tspan>(<tspan font-style="italic">k</tspan>)(m<tspan dy="-6.5" font-size="12">2</tspan><tspan dy="6.5"> s</tspan><tspan dy="-6.5" font-size="12">−3</tspan><tspan dy="6.5">)</tspan></text>
<text transform="translate(975.5,569.4) rotate(-90)" text-anchor="middle" font-size="18" fill="#484848" textLength="93.2" lengthAdjust="spacingAndGlyphs"><tspan font-style="italic">F</tspan>(<tspan font-style="italic">k</tspan>)(m<tspan dy="-6.5" font-size="12">2</tspan><tspan dy="6.5"> s</tspan><tspan dy="-6.5" font-size="12">−3</tspan><tspan dy="6.5">)</tspan></text>
<line x1="82.9" y1="778.8" x2="392" y2="778.8" stroke="#3d3d7a" stroke-width="3.4" stroke-dasharray="8.4 3.25"/>
<line x1="82.9" y1="778.8" x2="392" y2="778.8" stroke="#3d3d7a" stroke-width="0.8"/>
<polygon points="411.6,778.8 386.9,771.8 393.1,778.8 386.9,786" fill="#000"/>
<text x="249.3" y="797.3" text-anchor="middle" font-size="17.6" fill="#4a4a8c">Length scales</text>
<line x1="887.3" y1="778.8" x2="577.8" y2="778.8" stroke="#3f6e3a" stroke-width="3.4" stroke-dasharray="8.4 3.25"/>
<line x1="887.3" y1="778.8" x2="577.8" y2="778.8" stroke="#3f6e3a" stroke-width="0.8"/>
<polygon points="558.8,778.8 583.4,771.8 577.5,778.8 583.4,786" fill="#3f6e3a"/>
<text x="730.2" y="797.1" text-anchor="middle" font-size="17.6" fill="#4a7242">Length scales</text>
<line x1="1371.2" y1="778.8" x2="1062.8" y2="778.8" stroke="#3f6e3a" stroke-width="3.4" stroke-dasharray="8.4 3.25"/>
<line x1="1371.2" y1="778.8" x2="1062.8" y2="778.8" stroke="#3f6e3a" stroke-width="0.8"/>
<polygon points="1043.8,778.8 1068.4,771.8 1062.5,778.8 1068.4,786" fill="#3f6e3a"/>
<text x="1223.8" y="796.7" text-anchor="middle" font-size="17.6" fill="#4a7242">Length scales</text>
</svg>
</body></html>
